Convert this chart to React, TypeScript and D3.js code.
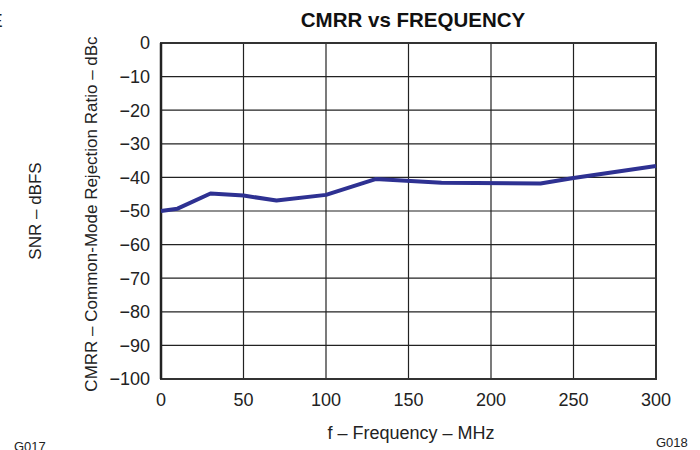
import React from "react";
import * as d3 from "d3";

const freqMHz = [0, 10, 30, 50, 70, 100, 130, 170, 230, 250, 300];
const cmrrDbc = [-50, -49.3, -44.8, -45.4, -46.9, -45.2, -40.5, -41.6, -41.8, -40.2, -36.6];
const xTicks = [0, 50, 100, 150, 200, 250, 300];
const yTicks = [0, -10, -20, -30, -40, -50, -60, -70, -80, -90, -100];

const W = 700, H = 450;
const M = { left: 161, right: 656, top: 43, bottom: 379 };

export default function App() {
  const x = d3.scaleLinear().domain([0, 300]).range([M.left, M.right]);
  const y = d3.scaleLinear().domain([-100, 0]).range([M.bottom, M.top]);
  const line = d3.line<number>().x((_, i) => x(freqMHz[i])).y((d) => y(d));
  const font = "'Liberation Sans', Arial, sans-serif";
  const fmt = (v: number) => (v < 0 ? "\u2212" + Math.abs(v) : String(v));
  return (
    <svg width={W} height={H} style={{ position: "absolute", left: 0, top: 0 }} fontFamily={font}>
      <rect width={W} height={H} fill="#fff" />
      <text x={-10} y={27} fontSize={19} fill="#222">E</text>
      <text x={413} y={27} fontSize={20.5} fontWeight="bold" textAnchor="middle" fill="#111">CMRR vs FREQUENCY</text>
      {xTicks.slice(1, -1).map((t) => (
        <line key={"gx" + t} x1={x(t)} x2={x(t)} y1={M.top} y2={M.bottom} stroke="#222" strokeWidth={1.2} />
      ))}
      {yTicks.slice(1, -1).map((t) => (
        <line key={"gy" + t} x1={M.left} x2={M.right} y1={y(t)} y2={y(t)} stroke="#222" strokeWidth={1.2} />
      ))}
      <rect x={M.left} y={M.top} width={M.right - M.left} height={M.bottom - M.top} fill="none" stroke="#333" strokeWidth={2} />
      <line x1={M.left} x2={M.left} y1={M.top} y2={M.bottom} stroke="#222" strokeWidth={2.5} />
      <path d={line(cmrrDbc) || ""} fill="none" stroke="#2e3192" strokeWidth={4} strokeLinejoin="round" />
      {yTicks.map((t) => (
        <text key={"ty" + t} x={150} y={y(t)} dy="0.35em" fontSize={18} textAnchor="end" fill="#222">{fmt(t)}</text>
      ))}
      {xTicks.map((t) => (
        <text key={"tx" + t} x={x(t)} y={406} fontSize={18} textAnchor="middle" fill="#222">{t}</text>
      ))}
      <text x={411} y={439} fontSize={18} textAnchor="middle" fill="#222">f – Frequency – MHz</text>
      <text transform="translate(41,211) rotate(-90)" fontSize={17} textAnchor="middle" fill="#222">SNR – dBFS</text>
      <text transform="translate(97,214) rotate(-90)" fontSize={17} textAnchor="middle" fill="#222">CMRR – Common-Mode Rejection Ratio – dBc</text>
      <text x={14} y={451} fontSize={13} fill="#222">G017</text>
      <text x={656} y={447} fontSize={13} fill="#222">G018</text>
    </svg>
  );
}
